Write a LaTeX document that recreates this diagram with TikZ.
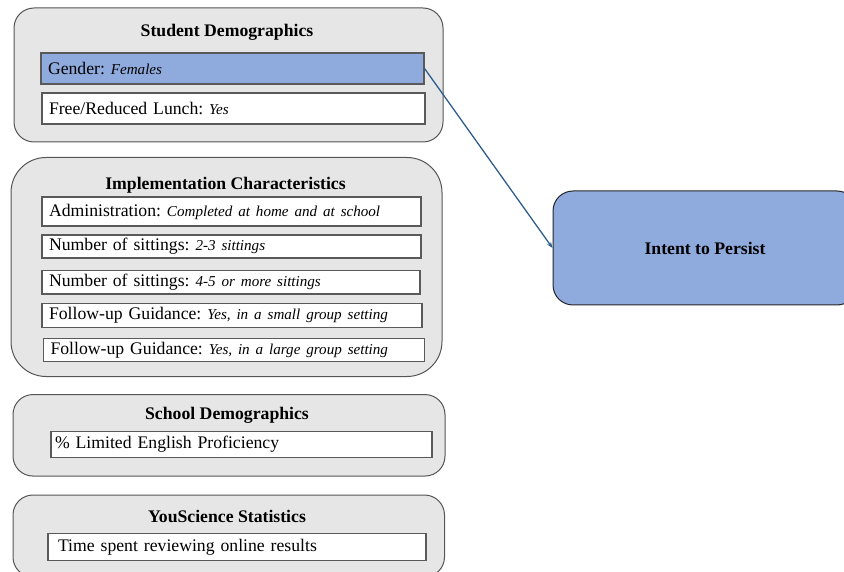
\documentclass[tikz,border=0pt]{standalone}
\usepackage{fontspec}
\setmainfont{Liberation Serif}
\usetikzlibrary{arrows.meta}
\definecolor{panelgray}{HTML}{E6E6E6}
\definecolor{accentblue}{HTML}{8FAADC}
\definecolor{linkblue}{HTML}{2E5E8E}
\definecolor{edgegray}{HTML}{555555}
\definecolor{itemgray}{HTML}{5A5A5A}
\newcommand\bodyfont{\fontsize{17.7}{21}\selectfont\frenchspacing}
\newcommand\valtext[1]{{\fontsize{15.1}{21}\selectfont\itshape #1}}
\begin{document}
\begin{tikzpicture}[x=1pt,y=-1pt,
  panel/.style={draw=edgegray, fill=panelgray, line width=1pt, rounded corners=20pt, inner sep=0pt},
  heading/.style={font=\bodyfont\bfseries, inner sep=0pt},
  item/.style={draw=itemgray, fill=white, line width=1.1pt, inner xsep=7pt, inner ysep=0pt, align=left, font=\bodyfont},
  outcome/.style={draw=black!85, fill=accentblue, line width=1pt, rounded corners=20pt, font=\bodyfont\bfseries},
  link/.style={draw=linkblue, line width=1.3pt, -{Stealth[length=6pt,width=4.5pt]}}]
\useasboundingbox (0,0) rectangle (844,572);

% Student demographics panel
\node[panel, minimum width=429pt, minimum height=134pt] (sd) at (228.5,75) {};
\node[heading] (sdtitle) at (227,32.5) {Student Demographics};
\node[item, fill=accentblue, minimum width=383pt, minimum height=31pt, text width=369pt] (gender) at (232.5,68.5) {Gender: \valtext{Females}};
\node[item, minimum width=383pt, minimum height=31pt, text width=369pt] (lunch) at (233.5,108.5) {Free/Reduced Lunch: \valtext{Yes}};

% Implementation characteristics panel
\node[panel, rounded corners=35pt, minimum width=431pt, minimum height=219pt] (ic) at (226.5,267) {};
\node[heading] (ictitle) at (225.5,185.5) {Implementation Characteristics};
\node[item, minimum width=379pt, minimum height=29pt, text width=365pt] (admin) at (231.5,211.5) {Administration: \valtext{Completed at home and at school}};
\node[item, minimum width=379pt, minimum height=23pt, text width=365pt] (sit23) at (231.5,246.5) {Number of sittings: \valtext{2-3 sittings}};
\node[item, minimum width=378pt, minimum height=23.5pt, text width=364pt] (sit45) at (231,282.3) {Number of sittings: \valtext{4-5 or more sittings}};
\node[item, minimum width=380pt, minimum height=23.5pt, text width=366pt] (fusmall) at (232,315.7) {Follow-up Guidance: \valtext{Yes, in a small group setting}};
\node[item, minimum width=381pt, minimum height=23.5pt, text width=367pt] (fularge) at (234,350) {Follow-up Guidance: \valtext{Yes, in a large group setting}};

% School demographics panel
\node[panel, minimum width=432pt, minimum height=81.5pt] (sch) at (229,435.3) {};
\node[heading] (schtitle) at (227,415.5) {School Demographics};
\node[item, inner xsep=4pt, minimum width=381pt, minimum height=26pt, text width=373pt] (lep) at (241.5,444.5) {\% Limited English Proficiency};

% YouScience statistics panel
\node[panel, minimum width=431.5pt, minimum height=82pt] (ys) at (228.75,536) {};
\node[heading] (ystitle) at (227,516) {YouScience Statistics};
\node[item, inner xsep=10pt, minimum width=378pt, minimum height=27pt, text width=358pt] (time) at (237,547) {Time spent reviewing online results};

% Outcome
\node[outcome, minimum width=304pt, minimum height=114pt] (intent) at (705,248) {Intent to Persist};

\draw[link] (gender.east) -- (intent.west);
\end{tikzpicture}
\end{document}
